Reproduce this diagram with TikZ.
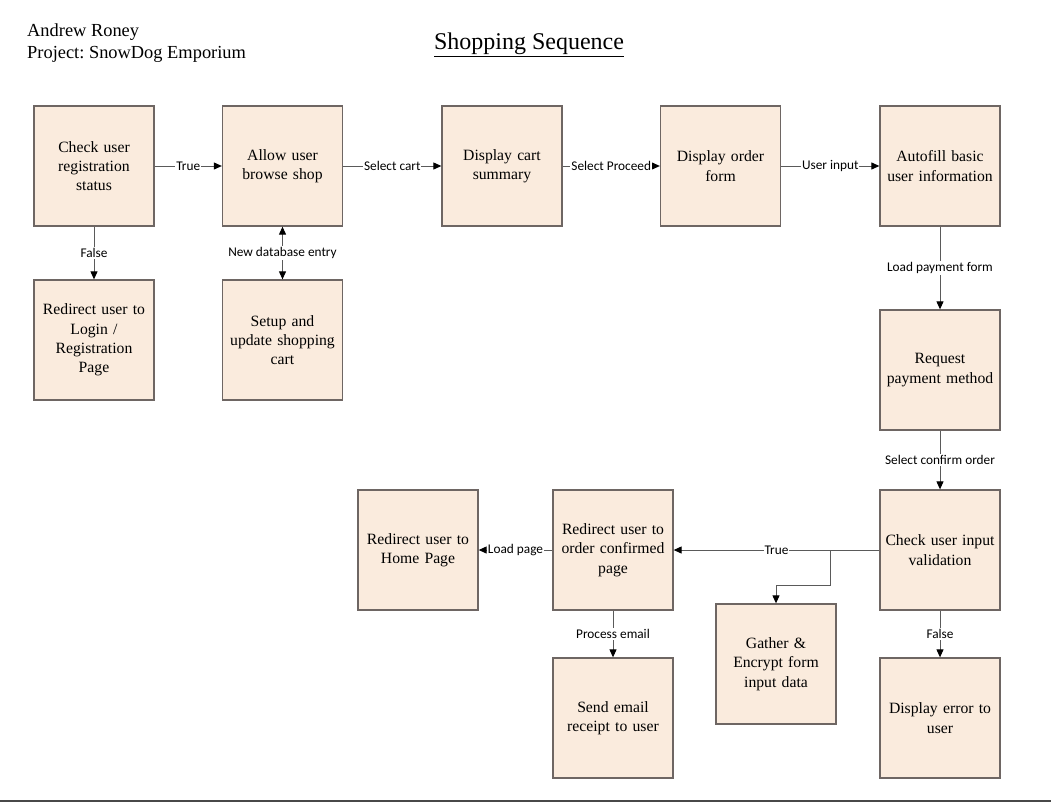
\documentclass[tikz,border=0pt]{standalone}
\usepackage{fontspec}
\setmainfont{Liberation Serif}
\newfontfamily\lblfont{Carlito}
\usetikzlibrary{arrows.meta}
\frenchspacing
\definecolor{boxfill}{HTML}{FAEBDD}
\definecolor{boxline}{HTML}{6E6663}
\definecolor{conline}{HTML}{5A5A5A}
\tikzset{
  stepbox/.style={draw=boxline, line width=1.3pt, fill=boxfill, minimum width=120pt, minimum height=120pt, inner sep=0pt, align=center, font=\fontsize{15.7}{19.3}\selectfont, text width=116pt},
  conn/.style={draw=conline, line width=1pt, -{Triangle[black,length=8pt,width=7pt]}},
  dconn/.style={draw=conline, line width=1pt, {Triangle[black,length=8pt,width=7pt]}-{Triangle[black,length=8pt,width=7pt]}},
  lbl/.style={fill=white, inner sep=1pt, font=\lblfont\fontsize{13.3}{15}\selectfont}
}
\begin{document}
\begin{tikzpicture}[x=1pt,y=1pt]
\useasboundingbox (0,0) rectangle (1051,-803);
\fill[white] (0,0) rectangle (1051,-803);
\draw[conline!80!black, line width=1.5pt] (0,-801) -- (1051,-801);
% header
\node[anchor=west, font=\fontsize{18.4}{22}\selectfont, inner sep=0pt] (author) at (27,-32) {Andrew Roney};
\node[anchor=west, font=\fontsize{18.4}{22}\selectfont, inner sep=0pt] (project) at (27,-54) {Project: SnowDog Emporium};
\node[font=\fontsize{24}{28}\selectfont, inner sep=0pt] (title) at (529,-45) {\underline{Shopping Sequence}};
% boxes
\node[stepbox] (check) at (94,-166) {Check user\\registration\\status};
\node[stepbox] (browse) at (282.5,-166) {Allow user\\browse shop};
\node[stepbox] (cart) at (502,-166) {Display cart\\summary};
\node[stepbox] (order) at (720.5,-166) {Display order\\form};
\node[stepbox] (autofill) at (940,-166) {Autofill basic\\user information};
\node[stepbox] (login) at (94,-340) {Redirect user to\\Login /\\Registration\\Page};
\node[stepbox] (setup) at (282.5,-340) {Setup and\\update shopping\\cart};
\node[stepbox] (payment) at (940,-370) {Request\\payment method};
\node[stepbox] (validate) at (940,-550) {Check user input\\validation};
\node[stepbox] (confirmed) at (613,-550) {Redirect user to\\order confirmed\\page};
\node[stepbox] (home) at (418,-550) {Redirect user to\\Home Page};
\node[stepbox] (gather) at (776,-664) {Gather \&\\Encrypt form\\input data};
\node[stepbox] (email) at (613,-718) {Send email\\receipt to user};
\node[stepbox] (error) at (940,-718) {Display error to\\user};
% connectors
\draw[conn] (check) -- node[lbl] {True} (browse);
\draw[conn] (browse) -- node[lbl] {Select cart} (cart);
\draw[conn] (cart) -- node[lbl] {Select Proceed} (order);
\draw[conn] (order) -- node[lbl] {User input} (autofill);
\draw[conn] (check) -- node[lbl] {False} (login);
\draw[dconn] (setup) -- node[lbl] {New database entry} (browse);
\draw[conn] (autofill) -- node[lbl] {Load payment form} (payment);
\draw[conn] (payment) -- node[lbl] {Select confirm order} (validate);
\draw[conn] (validate) -- node[lbl] {True} (confirmed);
\draw[conn] (confirmed) -- node[lbl] {Load page} (home);
\draw[conn] (confirmed) -- node[lbl] {Process email} (email);
\draw[conn] (validate) -- node[lbl] {False} (error);
\coordinate (branch) at (830,-550);
\coordinate (bend) at (830,-585);
\draw[conn] (branch) -- (bend) -| (gather.north);
\end{tikzpicture}
\end{document}
